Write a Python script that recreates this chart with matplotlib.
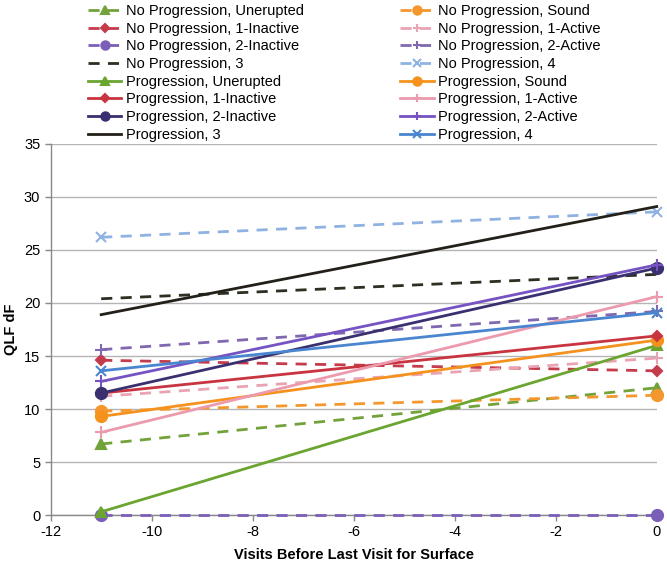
import matplotlib
matplotlib.use("Agg")
import matplotlib.pyplot as plt

plt.rcParams['font.family'] = ['Liberation Sans', 'DejaVu Sans']
plt.rcParams['axes.unicode_minus'] = False

visits = [-11, 0]
series_names = [
    "No Progression, Unerupted", "No Progression, Sound",
    "No Progression, 1-Inactive", "No Progression, 1-Active",
    "No Progression, 2-Inactive", "No Progression, 2-Active",
    "No Progression, 3", "No Progression, 4",
    "Progression, Unerupted", "Progression, Sound",
    "Progression, 1-Inactive", "Progression, 1-Active",
    "Progression, 2-Inactive", "Progression, 2-Active",
    "Progression, 3", "Progression, 4",
]
start_values = [6.7, 9.8, 14.6, 11.2, 0.0, 15.6, 20.4, 26.2,
                0.3, 9.3, 11.5, 7.8, 11.5, 12.6, 18.9, 13.6]
end_values = [12.0, 11.3, 13.6, 14.8, 0.0, 19.2, 22.7, 28.6,
              16.0, 16.5, 16.9, 20.6, 23.3, 23.6, 29.1, 19.1]
x_ticks = [-12, -10, -8, -6, -4, -2, 0]
y_ticks = [0, 5, 10, 15, 20, 25, 30, 35]

colors = ["#72a23a", "#f4982e", "#c43c4c", "#e9a3b3", "#7a5eb8", "#8068b0", "#2c2f22", "#8fb2e2",
          "#6aa530", "#f5921e", "#c8343f", "#ec9aae", "#3a3070", "#7653c2", "#222018", "#4a86d0"]
markers = ["^", "o", "D", "+", "o", "+", None, "x",
           "^", "o", "D", "+", "o", "+", None, "x"]
msizes = [7, 8, 5, 8, 8, 8, 0, 7, 7, 8, 5, 8, 8, 8, 0, 7]

fig = plt.figure(figsize=(6.67, 5.62), dpi=100)
ax = fig.add_axes([0.076, 0.0836, 0.9086, 0.6602])

handles = []
for i, name in enumerate(series_names):
    dashed = name.startswith("No")
    ls = (0, (4, 3)) if dashed else "-"
    h, = ax.plot(visits, [start_values[i], end_values[i]], color=colors[i], linestyle=ls,
                 linewidth=2.0, marker=markers[i], markersize=msizes[i],
                 markerfacecolor=colors[i], markeredgecolor=colors[i], markeredgewidth=1.5,
                 clip_on=False, zorder=3, label=name)
    handles.append(h)

ax.set_xlim(-12, 0)
ax.set_ylim(0, 35)
ax.set_xticks(x_ticks)
ax.set_yticks(y_ticks)
ax.tick_params(axis='both', labelsize=10.5, color="#888888", length=4, width=1)
ax.yaxis.grid(True, color="#b5b5b5", linewidth=1)
ax.set_axisbelow(True)
for s in ["top", "right"]:
    ax.spines[s].set_visible(False)
for s in ["left", "bottom"]:
    ax.spines[s].set_color("#888888")
    ax.spines[s].set_linewidth(1)

ax.set_xlabel("Visits Before Last Visit for Surface", fontsize=10.5, fontweight="bold", labelpad=6)
ax.set_ylabel("QLF dF", fontsize=10.5, fontweight="bold", labelpad=4)

# legend: Excel row-major order -> matplotlib column-major
left_col = handles[0::2]
right_col = handles[1::2]
leg_handles = left_col + right_col
fig.legend(handles=leg_handles, labels=[h.get_label() for h in leg_handles],
           ncol=2, loc="upper left", bbox_to_anchor=(0.123, 1.003), frameon=False,
           fontsize=10.5, handlelength=2.3, handletextpad=0.3, columnspacing=6.6,
           labelspacing=0.25, borderaxespad=0.0, markerscale=0.75)

fig.savefig("out.png", dpi=100)
